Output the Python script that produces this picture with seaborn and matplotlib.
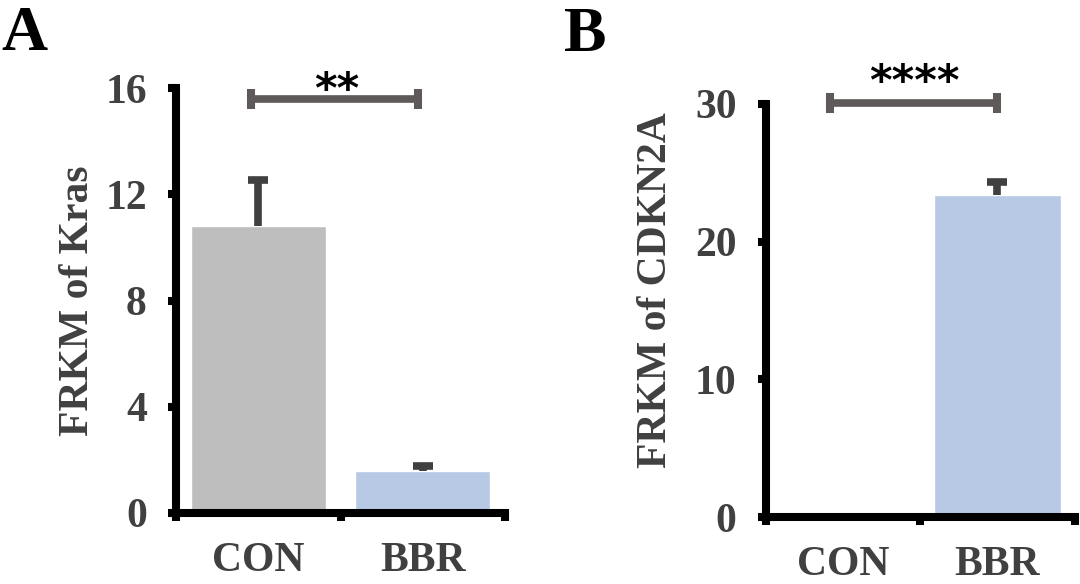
import numpy as np
import pandas as pd
import matplotlib
matplotlib.use('Agg')
import matplotlib.pyplot as plt
from matplotlib.ticker import FixedLocator
import seaborn as sns

# data
groups = ['CON', 'BBR']
bar_colors = ['#BFBEBF', '#B8C9E5']

kras_mean = [10.8, 1.6]
kras_err = [1.75, 0.18]
kras_ticks = [0, 4, 8, 12, 16]

cdkn2a_mean = [0.05, 23.4]
cdkn2a_err = [0.0, 0.9]
cdkn2a_ticks = [0, 10, 20, 30]

sns.set_style('white')
plt.rcParams['font.family'] = ['Liberation Serif', 'DejaVu Serif']
plt.rcParams['font.weight'] = 'bold'

txt_col = '#404040'
brk_col = '#5F5A5A'

fig = plt.figure(figsize=(10.8, 5.84), dpi=100)
axA = fig.add_axes([0.163, 0.1216, 0.3046, 0.7274])
axB = fig.add_axes([0.709, 0.1147, 0.286, 0.7073])


def draw_panel(ax, means, errs, ticks, ylabel, sig, bracket, star_pos, cap_h, ylab_xy):
    df = pd.DataFrame({'group': groups, 'value': means})
    sns.barplot(data=df, x='group', y='value', hue='group', palette=bar_colors,
                errorbar=None, width=0.82, saturation=1, legend=False, ax=ax)
    # only upper error bars, skip bars without error
    idx = [i for i, e in enumerate(errs) if e > 0]
    m = np.array(means)[idx]
    e = np.array(errs)[idx]
    eb = ax.errorbar(idx, m, yerr=[np.zeros(len(e)), e],
                     fmt='none', ecolor=txt_col, elinewidth=5.5, capsize=7.5,
                     capthick=5.5, zorder=3)
    eb[1][0].set_visible(False)
    ax.set_xlim(-0.5, 1.5)
    ax.set_ylim(ticks[0], ticks[-1])
    ax.set_yticks(ticks)
    ax.set_xlabel('')
    ax.set_ylabel(ylabel, fontsize=30, color=txt_col, fontweight='bold')
    ax.yaxis.set_label_coords(*ylab_xy)
    for s in ['top', 'right']:
        ax.spines[s].set_visible(False)
    for s in ['left', 'bottom']:
        ax.spines[s].set_linewidth(5.8)
        ax.spines[s].set_color('black')
        ax.spines[s].set_capstyle('projecting')
    ax.tick_params(axis='y', direction='out', length=6, width=5.8, color='black',
                   labelsize=30, labelcolor=txt_col, pad=15, left=True)
    ax.tick_params(axis='x', which='major', length=0, labelsize=30,
                   labelcolor=txt_col, pad=21)
    ax.xaxis.set_minor_locator(FixedLocator([-0.5, 0.5, 1.5]))
    ax.tick_params(axis='x', which='minor', direction='out', length=6, width=5.8,
                   color='black', bottom=True)
    for lab in ax.get_xticklabels() + ax.get_yticklabels():
        lab.set_fontweight('bold')

    # significance bracket
    x0, x1, y = bracket
    ax.plot([x0, x1], [y, y], color=brk_col, lw=5.5, clip_on=False,
            solid_capstyle='butt')
    for xx in (x0, x1):
        ax.plot([xx, xx], [y - cap_h, y + cap_h], color=brk_col, lw=5.8,
                clip_on=False, solid_capstyle='butt')
    ax.text(star_pos[0], star_pos[1], sig, ha='center', va='center',
            fontsize=31, fontweight='bold', color='black',
            family='DejaVu Sans', clip_on=False)


draw_panel(axA, kras_mean, kras_err, kras_ticks, 'FRKM of Kras', '**',
           (-0.044, 0.97, 15.58), (0.479, 15.9), 0.38, (-0.24, 0.5))
draw_panel(axB, cdkn2a_mean, cdkn2a_err, cdkn2a_ticks, 'FRKM of CDKN2A', '****',
           (-0.086, 0.995, 30.1), (0.464, 31.5), 0.73, (-0.295, 0.55))

fig.text(0.023, 0.94, 'A', fontsize=46, fontweight='bold', color='black',
         ha='center', va='center')
fig.text(0.542, 0.938, 'B', fontsize=46, fontweight='bold', color='black',
         ha='center', va='center')

fig.savefig('out.png', dpi=100)
